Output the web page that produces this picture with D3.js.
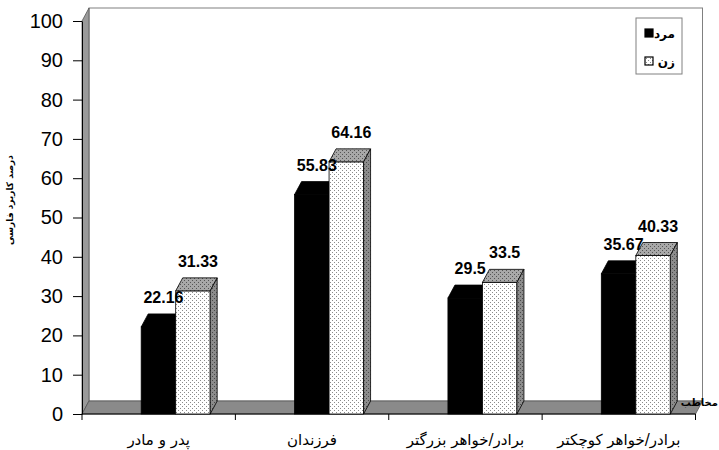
<!DOCTYPE html>
<html lang="fa">
<head>
  <meta charset="UTF-8">
  <title>Chart</title>
  <script src="https://cdn.jsdelivr.net/npm/d3@7"></script>
  <style>
    body { margin: 0; padding: 0; background: #fff; overflow: hidden; }
    text { font-family: "Liberation Sans", Arial, "DejaVu Sans", sans-serif; }
    .fa { font-family: "DejaVu Sans", sans-serif; }
  </style>
</head>
<body>
<div id="chart"></div>
<script>
// data
var categories = ["پدر و مادر", "فرزندان", "برادر/خواهر بزرگتر", "برادر/خواهر کوچکتر"];
var series = ["مرد", "زن"];
var menValues = [22.16, 55.83, 29.5, 35.67];
var womenValues = [31.33, 64.16, 33.5, 40.33];
var yTicks = [0, 10, 20, 30, 40, 50, 60, 70, 80, 90, 100];
var yTitle = "درصد کاربرد فارسی";
var xTitle = "مخاطب";

var W = 719, H = 450;
var dx = 7, dy = -13;      // 3d depth offset
var barW = 34.5;

var svg = d3.select("#chart").append("svg")
    .attr("width", W).attr("height", H);

var defs = svg.append("defs");
function dots(id, bg, fg) {
  var p = defs.append("pattern").attr("id", id)
      .attr("patternUnits", "userSpaceOnUse")
      .attr("width", 4).attr("height", 4);
  p.append("rect").attr("width", 4).attr("height", 4).attr("fill", bg);
  p.append("rect").attr("x", 0).attr("y", 0).attr("width", 1).attr("height", 1).attr("fill", fg);
  p.append("rect").attr("x", 2).attr("y", 2).attr("width", 1).attr("height", 1).attr("fill", fg);
}
dots("dotFront", "#ffffff", "#8a8a8a");
dots("dotTop", "#a8a8a8", "#555555");
dots("dotSide", "#8c8c8c", "#4a4a4a");

var x = d3.scaleBand().domain(categories).range([82, 695.5]);
var sub = d3.scaleBand().domain(series).range([0, barW * 2]);
var y = d3.scaleLinear().domain([0, 100]).range([414, 21]);
var pairOffset = (x.bandwidth() - barW * 2) / 2 + 17;

// back wall
svg.append("rect")
    .attr("x", 82 + dx).attr("y", y(100) + dy)
    .attr("width", 695.5 - 82).attr("height", y(0) - y(100))
    .attr("fill", "#fff").attr("stroke", "#808080");

// left wall
svg.append("polygon")
    .attr("points", [[82, y(100)], [82 + dx, y(100) + dy], [82 + dx, y(0) + dy], [82, y(0)]].join(" "))
    .attr("fill", "#9a9a9a").attr("stroke", "#555").attr("stroke-width", 0.8);

// floor
svg.append("polygon")
    .attr("points", [[82, y(0)], [82 + dx, y(0) + dy], [695.5 + dx, y(0) + dy], [695.5, y(0)]].join(" "))
    .attr("fill", "#8a8a8a").attr("stroke", "#555").attr("stroke-width", 0.8);

// y axis
var yAxis = svg.append("g")
    .attr("transform", "translate(82,0)")
    .call(d3.axisLeft(y).tickValues(yTicks).tickSize(9).tickSizeOuter(0).tickPadding(10));
yAxis.selectAll("text").attr("font-size", 20).attr("fill", "#000")
    .style("font-family", "'Liberation Sans', Arial, sans-serif");
yAxis.selectAll("line, path").attr("stroke", "#000");

// x axis
var xAxis = svg.append("g")
    .attr("transform", "translate(0," + y(0) + ")");
xAxis.append("line").attr("x1", 82).attr("x2", 695.5).attr("stroke", "#000");
xAxis.selectAll(".tk").data(categories.concat([null])).enter().append("line")
    .attr("x1", function(d, i) { return 82 + i * x.bandwidth(); })
    .attr("x2", function(d, i) { return 82 + i * x.bandwidth(); })
    .attr("y1", 0).attr("y2", 6).attr("stroke", "#000");
xAxis.selectAll(".cat").data(categories).enter().append("text")
    .attr("class", "fa")
    .attr("x", function(d) { return x(d) + x.bandwidth() / 2; })
    .attr("y", 31)
    .attr("text-anchor", "middle")
    .attr("font-size", 15)
    .attr("letter-spacing", 1)
    .text(function(d) { return d; });

// bars
function bar(g, x0, v, front, top, side) {
  var yv = y(v), y0 = y(0), x1 = x0 + barW;
  g.append("rect").attr("x", x0).attr("y", yv).attr("width", barW).attr("height", y0 - yv)
      .attr("fill", front).attr("stroke", "#000").attr("stroke-width", 0.8);
  g.append("polygon")
      .attr("points", [[x0, yv], [x0 + dx, yv + dy], [x1 + dx, yv + dy], [x1, yv]].join(" "))
      .attr("fill", top).attr("stroke", "#000").attr("stroke-width", 0.8);
  g.append("polygon")
      .attr("points", [[x1, yv], [x1 + dx, yv + dy], [x1 + dx, y0 + dy], [x1, y0]].join(" "))
      .attr("fill", side).attr("stroke", "#000").attr("stroke-width", 0.8);
}

var bars = svg.append("g");
categories.forEach(function(c, i) {
  var base = x(c) + pairOffset;
  bar(bars, base + sub(series[0]), menValues[i], "#000", "#000", "#000");
  bar(bars, base + sub(series[1]), womenValues[i], "url(#dotFront)", "url(#dotTop)", "url(#dotSide)");
});

// value labels
var labels = svg.append("g");
categories.forEach(function(c, i) {
  var base = x(c) + pairOffset;
  [menValues[i], womenValues[i]].forEach(function(v, j) {
    labels.append("text")
        .attr("x", base + sub(series[j]) + barW / 2 + 5)
        .attr("y", y(v) + dy - 11)
        .attr("text-anchor", "middle")
        .attr("font-size", 16).attr("font-weight", "bold")
        .text(v);
  });
});

// y title
svg.append("text")
    .attr("class", "fa")
    .attr("transform", "translate(13,200) rotate(-90)")
    .attr("text-anchor", "middle")
    .attr("font-size", 9).attr("font-weight", "bold")
    .text(yTitle);

// x title, squeezed against the right edge
svg.append("text")
    .attr("class", "fa")
    .attr("x", 718).attr("y", 406)
    .attr("text-anchor", "end")
    .attr("font-size", 10).attr("font-weight", "bold")
    .text(xTitle);

// legend
var lg = svg.append("g");
lg.append("rect").attr("x", 636).attr("y", 18).attr("width", 46).attr("height", 56)
    .attr("fill", "#fff").attr("stroke", "#808080");
var swatch = ["#000", "url(#dotFront)"];
series.forEach(function(s, i) {
  lg.append("rect").attr("x", 645).attr("y", 29 + i * 28).attr("width", 8).attr("height", 8)
      .attr("fill", swatch[i]).attr("stroke", "#000").attr("stroke-width", 1.2);
  lg.append("text").attr("class", "fa")
      .attr("x", 675).attr("y", 38 + i * 28)
      .attr("text-anchor", "end")
      .attr("font-size", 12).attr("font-weight", "bold")
      .text(s);
});
</script>
</body>
</html>
